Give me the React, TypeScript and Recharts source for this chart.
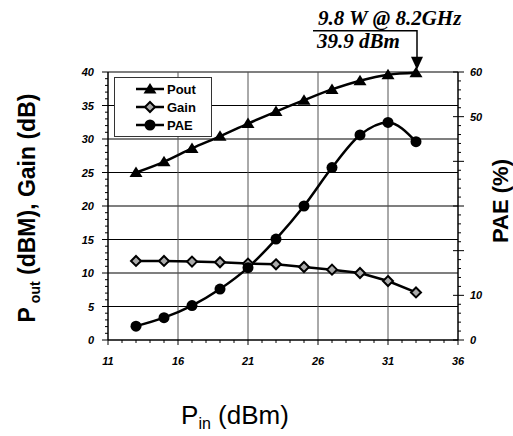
import { ComposedChart, Line, XAxis, YAxis, ReferenceLine, ReferenceDot, Legend } from 'recharts'

// input power sweep (dBm)
const pin = [13, 15, 17, 19, 21, 23, 25, 27, 29, 31, 33]
const pout = [25.0, 26.6, 28.6, 30.4, 32.3, 34.1, 35.8, 37.4, 38.7, 39.6, 39.9]
const gain = [11.8, 11.8, 11.7, 11.6, 11.4, 11.3, 10.9, 10.5, 10.0, 8.8, 7.1]
const pae = [3.1, 5.0, 7.7, 11.4, 16.2, 22.6, 30.0, 38.6, 45.9, 48.7, 44.4]

const xLabels = [11, 16, 21, 26, 31, 36]
const leftLabels = [0, 5, 10, 15, 20, 25, 30, 35, 40]
const rightLabels = [0, 10, 50, 60]
const rightMajor = [0, 10, 20, 30, 40, 50, 60]
const vGrid = [16, 21, 26, 31]
const hGrid = [5, 10, 15, 20, 25, 30, 35, 40]

const range = (a: number, b: number, step: number) => {
  const out: number[] = []
  for (let v = a; v <= b; v += step) out.push(v)
  return out
}
const xTicks = range(11, 36, 1)
const leftTicks = range(0, 40, 1)
const rightTicks = range(0, 60, 2)

const rows = pin.map((p, i) => ({ pin: p, pout: pout[i], gain: gain[i], pae: pae[i] }))

const font = 'Liberation Sans, Arial, sans-serif'
const tickFont = { fontFamily: font, fontSize: 11, fontWeight: 700, fontStyle: 'italic', fill: '#000' }

const Triangle = ({ cx, cy }: any) => (
  <polygon points={`${cx},${cy - 6} ${cx - 6.5},${cy + 4.5} ${cx + 6.5},${cy + 4.5}`} fill="#000" />
)
const Diamond = ({ cx, cy }: any) => (
  <path d={`M${cx},${cy - 5} L${cx + 5},${cy} L${cx},${cy + 5} L${cx - 5},${cy} Z`} fill="#aaa" stroke="#000" strokeWidth={2} />
)
const Circle = ({ cx, cy }: any) => <circle cx={cx} cy={cy} r={5.5} fill="#000" />

const series = [
  { key: 'pout', name: 'Pout', axis: 'left', Mark: Triangle },
  { key: 'gain', name: 'Gain', axis: 'left', Mark: Diamond },
  { key: 'pae', name: 'PAE', axis: 'right', Mark: Circle },
]

const XTick = ({ x, y, payload }: any) => {
  const major = xLabels.includes(payload.value)
  return (
    <g>
      <line x1={x} x2={x} y1={y} y2={y + (major ? 5 : 3)} stroke="#000" />
      {major && <text x={x} y={y + 25} textAnchor="middle" style={tickFont}>{payload.value}</text>}
    </g>
  )
}

const LeftTick = ({ x, y, payload }: any) => {
  const major = leftLabels.includes(payload.value)
  return (
    <g>
      <line x1={x - (major ? 6 : 3)} x2={x} y1={y} y2={y} stroke="#000" />
      {major && <text x={x - 14} y={y + 4} textAnchor="end" style={tickFont}>{payload.value}</text>}
    </g>
  )
}

const RightTick = ({ x, y, payload }: any) => {
  const major = rightMajor.includes(payload.value)
  return (
    <g>
      <line x1={x - (major ? 5 : 0)} x2={x + (major ? 6 : 3)} y1={y} y2={y} stroke="#000" />
      {rightLabels.includes(payload.value) && (
        <text x={x + 12} y={y + 4} textAnchor="start" style={tickFont}>{payload.value}</text>
      )}
    </g>
  )
}

const LegendBox = () => (
  <div style={{ border: '1px solid #333', background: '#fff', padding: '2px 0 2px 20px', fontFamily: font, fontWeight: 700, fontSize: 13 }}>
    {series.map(s => (
      <div key={s.key} style={{ display: 'flex', alignItems: 'center', height: 18 }}>
        <svg width={30} height={16}>
          <line x1={1} x2={29} y1={8} y2={8} stroke="#000" strokeWidth={2.5} />
          <s.Mark cx={15} cy={8} />
        </svg>
        <span style={{ marginLeft: 2 }}>{s.name}</span>
      </div>
    ))}
  </div>
)

const Annotation = ({ cx, cy }: any) => (
  <g>
    <polyline points={`${cx - 103},${cy - 42} ${cx + 1},${cy - 42} ${cx + 1},${cy - 14}`} fill="none" stroke="#000" strokeWidth={1.5} />
    <polygon points={`${cx - 5},${cy - 16} ${cx + 7},${cy - 16} ${cx + 1},${cy - 3}`} fill="#000" />
    <text x={cx - 98} y={cy - 48} style={{ fontFamily: 'Liberation Serif, serif', fontWeight: 700, fontStyle: 'italic', fontSize: 21 }}>9.8 W @ 8.2GHz</text>
    <text x={cx - 99} y={cy - 25} style={{ fontFamily: 'Liberation Serif, serif', fontWeight: 700, fontStyle: 'italic', fontSize: 21 }}>39.9 dBm</text>
  </g>
)

export default function App() {
  return (
    <div style={{ position: 'absolute', left: 0, top: 0, width: 513, height: 436, background: '#fff' }}>
      <ComposedChart width={513} height={436} data={rows} margin={{ top: 72, right: 0, bottom: 0, left: 0 }}>
        <XAxis
          dataKey="pin" type="number" domain={[11, 36]} ticks={xTicks} interval={0}
          tickSize={0} tickMargin={0} tickLine={false} tick={XTick} height={96}
          axisLine={{ stroke: '#000', strokeWidth: 1.5 }}
          label={{
            content: () => (
              <text x={235} y={424} textAnchor="middle" style={{ fontFamily: font, fontSize: 26, fill: '#000' }}>
                P<tspan fontSize={16} dy={5}>in</tspan><tspan dy={-5}> (dBm)</tspan>
              </text>
            ),
          }}
        />
        <YAxis
          yAxisId="left" domain={[0, 40]} ticks={leftTicks} interval={0} width={108}
          tickSize={0} tickMargin={0} tickLine={false} tick={LeftTick}
          axisLine={{ stroke: '#000', strokeWidth: 1.5 }}
          label={{
            content: () => (
              <text x={35} y={208} transform="rotate(-90, 35, 208)" textAnchor="middle" style={{ fontFamily: font, fontSize: 23, fontWeight: 700, fill: '#000' }}>
                P<tspan fontSize={14} dy={5}> out</tspan><tspan dy={-5}> (dBM), Gain (dB)</tspan>
              </text>
            ),
          }}
        />
        <YAxis
          yAxisId="right" orientation="right" domain={[0, 60]} ticks={rightTicks} interval={0} width={55}
          tickSize={0} tickMargin={0} tickLine={false} tick={RightTick}
          axisLine={{ stroke: '#000', strokeWidth: 1.5 }}
          label={{
            content: () => (
              <text x={508} y={201} transform="rotate(-90, 508, 201)" textAnchor="middle" style={{ fontFamily: font, fontSize: 22, fontWeight: 700, fill: '#000' }}>
                PAE (%)
              </text>
            ),
          }}
        />
        {hGrid.map(v => (
          <ReferenceLine key={`h${v}`} yAxisId="left" y={v} stroke="#000" strokeWidth={1.2} />
        ))}
        {vGrid.map(v => (
          <ReferenceLine key={`v${v}`} yAxisId="left" x={v} stroke="#555" strokeWidth={1} />
        ))}
        <Legend
          layout="vertical" align="center" verticalAlign="middle"
          wrapperStyle={{ left: 114, top: 77, width: 98 }}
          content={() => <LegendBox />}
        />
        {series.map(s => (
          <Line
            key={s.key} yAxisId={s.axis} dataKey={s.key} name={s.name}
            type={s.key === 'gain' ? 'linear' : 'monotone'}
            stroke="#000" strokeWidth={2.5} isAnimationActive={false}
            dot={(p: any) => <s.Mark key={p.index} cx={p.cx} cy={p.cy} />}
          />
        ))}
        <ReferenceDot yAxisId="left" x={pin[pin.length - 1]} y={pout[pout.length - 1]} shape={Annotation} />
      </ComposedChart>
    </div>
  )
}
